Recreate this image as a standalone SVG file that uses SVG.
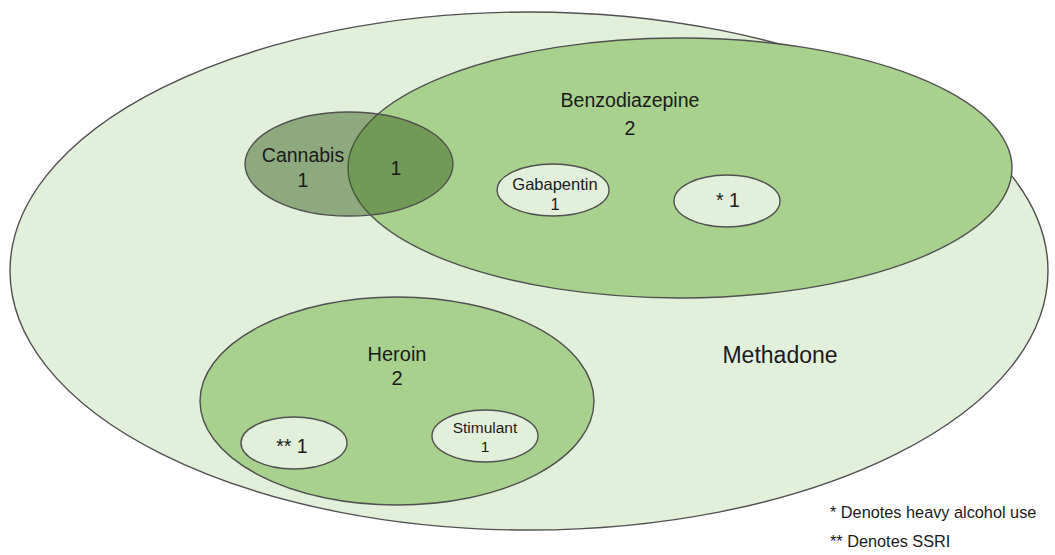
<svg xmlns="http://www.w3.org/2000/svg" width="1055" height="555" viewBox="0 0 1055 555">
<style>
.e{stroke:#505050;stroke-width:1.4}
.light{fill:#e2efda}
.mid{fill:#a9d18e}
.can{fill:#3a6320;fill-opacity:0.5}
text{font-family:"Liberation Sans",Arial,sans-serif;fill:#1a1a1a;text-anchor:middle}
.big{font-size:19.5px}
.gab{font-size:16.5px}
.stim{font-size:15.5px}
.leg{font-size:16.3px;text-anchor:start}
</style>
<rect width="1055" height="555" fill="#ffffff"/>
<g id="methadone">
<ellipse class="e light" cx="529" cy="271" rx="519" ry="259"/>
<text x="780" y="363" style="font-size:23px">Methadone</text>
</g>
<g id="benzodiazepine">
<ellipse class="e mid" cx="680" cy="168" rx="332" ry="130"/>
<text class="big" x="630" y="107">Benzodiazepine</text>
<text class="big" x="630" y="135">2</text>
</g>
<g id="cannabis">
<ellipse class="e can" cx="349" cy="164" rx="104" ry="52"/>
<text class="big" x="303" y="162">Cannabis</text>
<text class="big" x="303" y="187">1</text>
<text class="big" x="396" y="175">1</text>
</g>
<g id="gabapentin">
<ellipse class="e light" cx="553" cy="190" rx="56" ry="26"/>
<text class="gab" x="555" y="190">Gabapentin</text>
<text class="gab" x="555" y="210">1</text>
</g>
<g id="alcohol">
<ellipse class="e light" cx="727" cy="201" rx="53" ry="26"/>
<text class="big" x="728" y="207">* 1</text>
</g>
<g id="heroin">
<ellipse class="e mid" cx="397" cy="401" rx="197" ry="104"/>
<text class="big" x="397" y="361" style="font-size:20px">Heroin</text>
<text class="big" x="397" y="385" style="font-size:20px">2</text>
</g>
<g id="ssri">
<ellipse class="e light" cx="294" cy="443" rx="53" ry="26"/>
<text class="big" x="292" y="453">** 1</text>
</g>
<g id="stimulant">
<ellipse class="e light" cx="485" cy="436" rx="53" ry="26"/>
<text class="stim" x="485" y="433">Stimulant</text>
<text class="stim" x="485" y="452">1</text>
</g>
<g id="connectors"></g>
<g id="legend">
<text class="leg" x="830" y="518">* Denotes heavy alcohol use</text>
<text class="leg" x="830" y="547">** Denotes SSRI</text>
</g>
</svg>
